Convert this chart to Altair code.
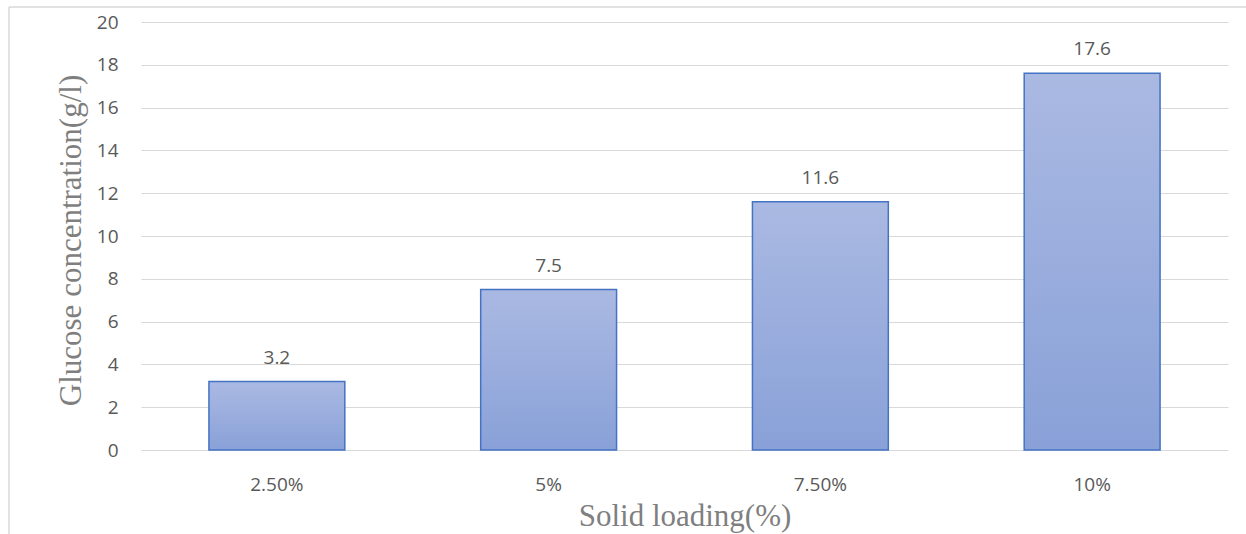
import altair as alt
import pandas as pd

categories = ["2.50%", "5%", "7.50%", "10%"]
values = [3.2, 7.5, 11.6, 17.6]
y_ticks = [0, 2, 4, 6, 8, 10, 12, 14, 16, 18, 20]

df = pd.DataFrame({"cat": categories, "val": values})
frame_df = pd.DataFrame({"k": [0]})

W, H = 1087, 428
GRAY = "#595959"
TGRAY = "#7F7F7F"

x_enc = alt.X("cat:N", sort=categories, title="Solid loading(%)",
              scale=alt.Scale(paddingInner=0.5, paddingOuter=0.25),
              axis=alt.Axis(labelAngle=0, labelFont="Open Sans", labelFontSize=19,
                            labelColor=GRAY, labelBaseline="alphabetic", labelPadding=40,
                            tickSize=0, ticks=False, domain=False, grid=False,
                            titleFont="Liberation Serif", titleFontSize=31,
                            titleFontWeight="normal", titleColor=TGRAY,
                            titleBaseline="alphabetic", titleY=75, titleX=W / 2))
y_enc = alt.Y("val:Q", title="Glucose concentration(g/l)",
              scale=alt.Scale(domain=[0, 20], nice=False),
              axis=alt.Axis(values=y_ticks, labelFont="Open Sans", labelFontSize=19,
                            labelColor=GRAY, labelPadding=23, tickSize=0, ticks=False,
                            domain=False, gridColor="#D9D9D9", gridWidth=1.2,
                            titleFont="Liberation Serif", titleFontSize=31,
                            titleFontWeight="normal", titleColor=TGRAY,
                            titleBaseline="alphabetic", titleX=-61, titleY=218,
                            titleAngle=270))

bars = alt.Chart(df).mark_bar(
    color=alt.Gradient(gradient="linear", x1=0, y1=0, x2=0, y2=1,
                       stops=[alt.GradientStop(color="#AAB9E2", offset=0),
                              alt.GradientStop(color="#89A1D8", offset=1)]),
    stroke="#4472C4", strokeWidth=1.5
).encode(x=x_enc, y=y_enc)

labels = alt.Chart(df).mark_text(
    font="Open Sans", fontSize=19, color=GRAY, baseline="alphabetic", dy=-18
).encode(x=alt.X("cat:N", sort=categories), y="val:Q", text=alt.Text("val:Q", format=".1f"))

left_line = alt.Chart(frame_df).mark_rule(color="#D9D9D9", strokeWidth=1.5).encode(
    x=alt.value(-132), y=alt.value(-15), y2=alt.value(520))
top_line = alt.Chart(frame_df).mark_rule(color="#D9D9D9", strokeWidth=1.5).encode(
    x=alt.value(-132), x2=alt.value(1110), y=alt.value(-15))

chart = alt.layer(bars, labels, left_line, top_line).properties(
    width=W, height=H,
    autosize=alt.AutoSizeParams(type="none"),
    padding={"left": 141, "top": 22, "right": 18, "bottom": 84},
    background="white"
).configure_view(stroke=None)

chart.save("out.html", embed_options={"renderer": "svg", "actions": False})
